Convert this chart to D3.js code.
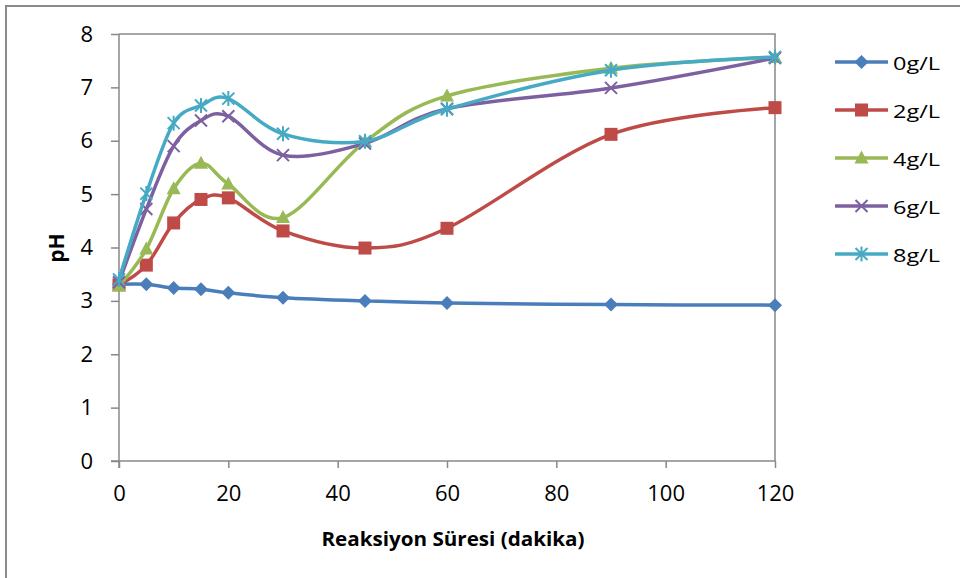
<!DOCTYPE html>
<html>
<head>
<meta charset="utf-8">
<script src="https://cdn.jsdelivr.net/npm/d3@7"></script>
<style>
  html, body { margin: 0; padding: 0; background: #fff; }
  svg { display: block; }
  text { font-family: "Open Sans", "Liberation Sans", sans-serif; fill: #000; }
</style>
</head>
<body>
<svg id="chart" width="960" height="578"></svg>
<script>
// Reaction time (minutes)
const times = [0, 5, 10, 15, 20, 30, 45, 60, 90, 120];

// pH readings per catalyst dose
const seriesNames = ["0g/L", "2g/L", "4g/L", "6g/L", "8g/L"];
const ph0 = [3.31, 3.31, 3.24, 3.22, 3.15, 3.06, 3.00, 2.96, 2.93, 2.92];
const ph2 = [3.30, 3.67, 4.46, 4.90, 4.93, 4.31, 3.99, 4.36, 6.12, 6.62];
const ph4 = [3.28, 3.97, 5.10, 5.58, 5.19, 4.56, 5.98, 6.84, 7.36, 7.56];
const ph6 = [3.35, 4.72, 5.90, 6.38, 6.46, 5.73, 5.95, 6.60, 6.99, 7.55];
const ph8 = [3.40, 5.01, 6.33, 6.66, 6.79, 6.13, 5.99, 6.59, 7.32, 7.57];
const seriesValues = [ph0, ph2, ph4, ph6, ph8];

const xTicks = [0, 20, 40, 60, 80, 100, 120];
const yTicks = [0, 1, 2, 3, 4, 5, 6, 7, 8];

const colors = ["#4A7EBB", "#BE4B48", "#98B954", "#7D60A0", "#46AAC5"];
const markerTypes = ["diamond", "square", "triangle", "x", "star"];

const svg = d3.select("#chart");

// outer chart frame
svg.append("rect")
  .attr("x", 6).attr("y", 6).attr("width", 1000).attr("height", 1000)
  .attr("fill", "none").attr("stroke", "#8a8a8a").attr("stroke-width", 2);

const plot = { left: 119, right: 775, top: 34, bottom: 461 };

const x = d3.scaleLinear().domain([0, 120]).range([plot.left, plot.right]);
const y = d3.scaleLinear().domain([0, 8]).range([plot.bottom, plot.top]);

// plot area border (top/right)
svg.append("path")
  .attr("d", `M${plot.left},${plot.top}H${plot.right}V${plot.bottom}`)
  .attr("fill", "none").attr("stroke", "#888").attr("stroke-width", 1.5);

// axes
const yAxis = svg.append("g")
  .attr("transform", `translate(${plot.left},0)`)
  .call(d3.axisLeft(y).tickValues(yTicks).tickSize(8).tickPadding(18).tickSizeOuter(0));
const xAxis = svg.append("g")
  .attr("transform", `translate(0,${plot.bottom})`)
  .call(d3.axisBottom(x).tickValues(xTicks).tickSize(7).tickPadding(17).tickSizeOuter(0));

[xAxis, yAxis].forEach(g => {
  g.select(".domain").attr("stroke", "#888").attr("stroke-width", 1.5);
  g.selectAll(".tick line").attr("stroke", "#888").attr("stroke-width", 1.5);
  g.selectAll(".tick text").attr("font-size", 22).attr("fill", "#000")
    .style("font-family", '"Open Sans", sans-serif');
});
// y axis line continues down to the x tick length
yAxis.select(".domain").attr("d", `M0,${plot.top}V${plot.bottom + 7}`);
xAxis.select(".domain").attr("d", `M${plot.left - 8},0H${plot.right}`);

// axis titles
svg.append("text")
  .attr("x", (plot.left + plot.right) / 2 + 6).attr("y", 538)
  .attr("text-anchor", "middle").attr("dominant-baseline", "central")
  .attr("font-size", 20).attr("font-weight", "bold")
  .attr("textLength", 263).attr("lengthAdjust", "spacingAndGlyphs")
  .text("Reaksiyon Süresi (dakika)");

svg.append("text")
  .attr("transform", "translate(56,248) rotate(-90)")
  .attr("text-anchor", "middle").attr("dominant-baseline", "central")
  .attr("font-size", 21).attr("font-weight", "bold")
  .text("pH");

// marker shapes
function drawMarker(g, type, cx, cy, color) {
  if (type === "diamond") {
    g.append("path").attr("d", `M${cx},${cy - 7}L${cx + 7},${cy}L${cx},${cy + 7}L${cx - 7},${cy}Z`)
      .attr("fill", color);
  } else if (type === "square") {
    g.append("rect").attr("x", cx - 6.5).attr("y", cy - 6.5).attr("width", 13).attr("height", 13)
      .attr("fill", color);
  } else if (type === "triangle") {
    g.append("path").attr("d", `M${cx},${cy - 7.5}L${cx + 7},${cy + 5.5}L${cx - 7},${cy + 5.5}Z`)
      .attr("fill", color);
  } else if (type === "x") {
    g.append("path").attr("d", `M${cx - 6},${cy - 6}L${cx + 6},${cy + 6}M${cx - 6},${cy + 6}L${cx + 6},${cy - 6}`)
      .attr("stroke", color).attr("stroke-width", 2).attr("fill", "none");
  } else if (type === "star") {
    g.append("path").attr("d", `M${cx - 6},${cy - 6}L${cx + 6},${cy + 6}M${cx - 6},${cy + 6}L${cx + 6},${cy - 6}M${cx},${cy - 7.5}V${cy + 7.5}`)
      .attr("stroke", color).attr("stroke-width", 2).attr("fill", "none");
  }
}

const line = d3.line()
  .x(d => x(d[0]))
  .y(d => y(d[1]))
  .curve(d3.curveCardinal.tension(0));

seriesValues.forEach((vals, i) => {
  const pts = times.map((t, k) => [t, vals[k]]);
  const g = svg.append("g");
  g.append("path").datum(pts)
    .attr("d", line)
    .attr("fill", "none").attr("stroke", colors[i]).attr("stroke-width", 3.5)
    .attr("stroke-linejoin", "round").attr("stroke-linecap", "round");
  pts.forEach(p => drawMarker(g, markerTypes[i], x(p[0]), y(p[1]), colors[i]));
});

// legend
const legend = svg.append("g");
seriesNames.forEach((name, i) => {
  const ly = 62 + i * 48;
  const g = legend.append("g");
  g.append("line").attr("x1", 835).attr("x2", 888).attr("y1", ly).attr("y2", ly)
    .attr("stroke", colors[i]).attr("stroke-width", 3.5);
  drawMarker(g, markerTypes[i], 861.5, ly, colors[i]);
  g.append("text").attr("x", 893).attr("y", ly + 1).attr("dominant-baseline", "central")
    .attr("font-size", 19).attr("textLength", 47).attr("lengthAdjust", "spacingAndGlyphs")
    .text(name);
});
</script>
</body>
</html>
